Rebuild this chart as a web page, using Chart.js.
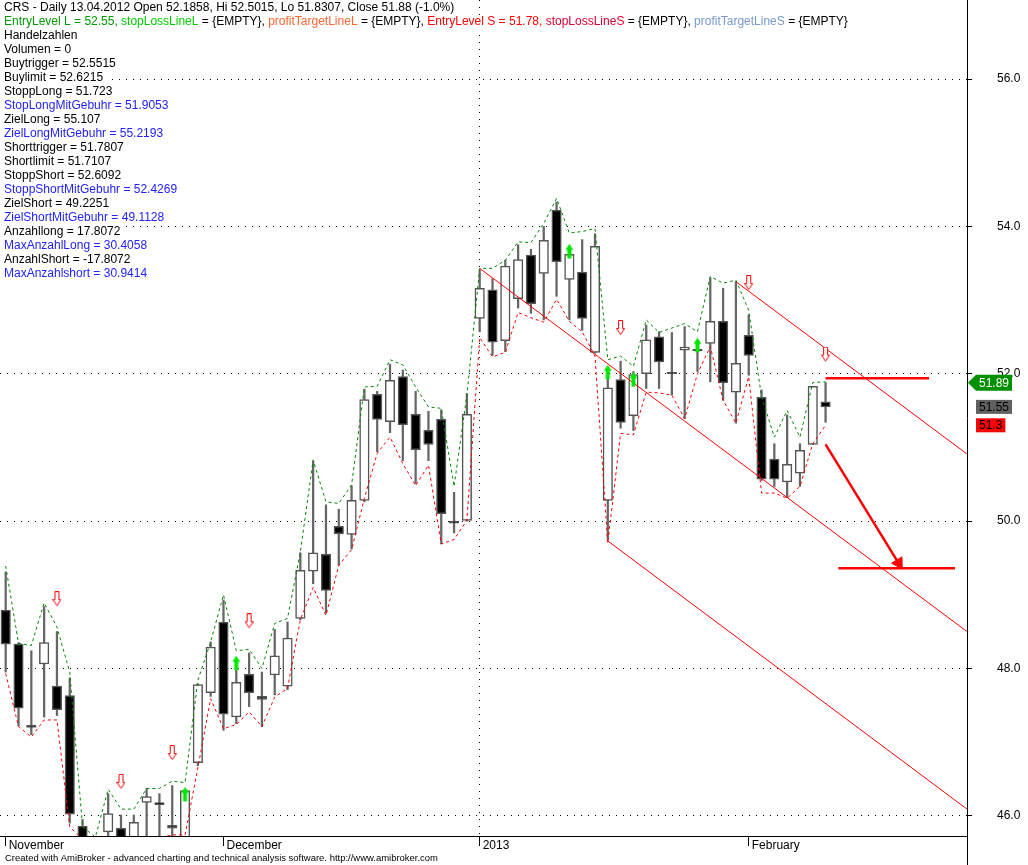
<!DOCTYPE html>
<html>
<head>
<meta charset="utf-8">
<title>CRS - Daily</title>
<script src="https://cdn.jsdelivr.net/npm/chart.js@4.4.1/dist/chart.umd.min.js"></script>
<style>
  html, body { margin: 0; padding: 0; background: #fff; }
  canvas { display: block; }
</style>
</head>
<body>
<canvas id="chart" width="1028" height="865"></canvas>
<script>
// ─── Price data (one entry per trading day) ────────────────────────────────────
const opens = [48.79, 48.33, 47.23, 48.06, 47.76, 47.63, 45.86, 45.55, 45.78, 45.83,
  45.70, 46.18, 46.18, 45.87, 45.65, 46.72, 47.67, 48.63, 47.34, 47.92,
  47.62, 47.91, 47.76, 48.68, 49.32, 49.55, 49.93, 49.82, 50.28, 51.72,
  51.35, 51.96, 51.45, 51.23, 51.38, 50.00, 50.01, 52.75, 53.14, 52.45,
  53.02, 53.61, 53.36, 54.22, 53.28, 53.38, 52.29, 50.28, 51.92, 51.43,
  52.00, 52.50, 52.02, 52.32, 52.33, 52.41, 52.71, 51.75, 52.52, 51.68,
  50.84, 50.53, 50.65, 51.04, 51.62];
const highs = [49.31, 48.35, 48.24, 48.84, 48.50, 47.87, 45.95, 45.68, 46.30, 46.01,
  46.01, 46.37, 46.30, 46.41, 46.34, 47.79, 48.36, 48.93, 47.98, 48.21,
  47.95, 48.53, 48.63, 49.57, 50.81, 50.22, 50.16, 50.48, 51.79, 51.76,
  52.13, 52.05, 51.76, 51.49, 51.51, 50.39, 51.73, 53.41, 53.29, 53.54,
  53.75, 53.69, 54.00, 54.33, 53.65, 53.82, 53.90, 51.94, 52.17, 52.03,
  52.66, 52.57, 52.56, 52.64, 52.45, 53.30, 53.16, 53.25, 52.80, 51.78,
  51.05, 51.44, 51.05, 51.83, 51.88];
const lows = [47.95, 47.22, 47.10, 47.34, 47.36, 45.90, 45.30, 45.10, 45.55, 45.50,
  45.50, 45.60, 45.60, 45.65, 45.50, 46.68, 47.62, 47.16, 47.25, 47.48,
  47.21, 47.64, 47.71, 48.66, 49.15, 48.75, 49.40, 49.62, 50.26, 50.94,
  51.20, 50.82, 50.51, 50.82, 49.69, 49.84, 50.00, 52.57, 52.25, 52.30,
  52.89, 52.82, 52.73, 53.05, 52.73, 52.59, 52.28, 49.75, 51.26, 51.23,
  51.80, 51.80, 51.71, 51.39, 52.03, 51.89, 51.64, 51.33, 51.98, 50.55,
  50.47, 50.32, 50.47, 51.04, 51.34];
const closes = [48.33, 47.46, 47.20, 48.35, 47.44, 46.02, 45.50, 45.30, 46.03, 45.65,
  45.91, 46.26, 46.15, 45.83, 46.34, 47.78, 48.29, 47.38, 47.81, 47.67,
  47.58, 48.17, 48.41, 49.33, 49.57, 49.06, 49.83, 50.28, 51.65, 51.38,
  51.91, 51.31, 50.97, 51.04, 50.10, 49.97, 51.45, 53.16, 52.43, 53.46,
  53.55, 52.95, 53.81, 53.52, 53.62, 52.75, 53.73, 51.81, 51.34, 51.99,
  52.46, 52.16, 52.00, 52.36, 52.31, 52.71, 51.88, 52.14, 52.25, 50.57,
  50.57, 50.77, 50.96, 51.83, 51.55];

// ─── Envelope lines (green = upper, red = lower) ───────────────────────────────
const upperBand = [49.39, 48.34, 48.31, 48.89, 48.56, 47.95, 45.85, 45.71, 46.36, 46.09,
  46.09, 46.37, 46.37, 46.47, 46.45, 47.84, 48.36, 49.00, 48.24, 48.26,
  48.00, 48.61, 48.68, 49.58, 50.83, 50.26, 50.24, 50.49, 51.82, 51.83,
  52.19, 52.12, 51.82, 51.55, 51.53, 50.47, 51.71, 53.43, 53.43, 53.54,
  53.79, 53.78, 54.04, 54.38, 53.91, 53.93, 53.97, 52.19, 52.24, 52.10,
  52.73, 52.56, 52.62, 52.68, 52.57, 53.32, 53.23, 53.27, 52.86, 51.69,
  51.14, 51.50, 51.14, 51.88, 51.89];
const lowerBand = [47.93, 47.21, 47.07, 47.30, 47.30, 45.85, 45.68, 45.30, 45.40, 45.40,
  45.45, 45.55, 45.70, 45.74, 45.74, 46.65, 47.59, 47.18, 47.24, 47.41,
  47.21, 47.61, 47.73, 48.66, 49.10, 48.72, 49.40, 49.61, 50.31, 50.92,
  51.14, 50.78, 50.48, 50.76, 49.69, 49.75, 50.01, 52.49, 52.23, 52.29,
  52.83, 52.76, 52.70, 53.01, 52.71, 52.57, 52.24, 49.70, 51.19, 51.17,
  51.75, 51.74, 51.71, 51.39, 52.00, 52.37, 51.64, 51.33, 51.96, 50.38,
  50.38, 50.31, 50.47, 51.05, 51.30];

// ─── Signals [bar index, price] ────────────────────────────────────────────────
const sellSignals = [[4, 48.94], [9, 46.46], [13, 46.85], [19, 48.64], [48, 52.62], [58, 53.23], [64, 52.26]];
const buySignals = [[14, 46.29], [18, 48.07], [44, 53.66], [47, 52.02], [49, 51.92], [54, 52.385]];

// ─── Trend channel and target drawing [bar index, price] ──────────────────────
const channelTop = [[57, 53.25], [75.04, 50.91]];
const channelMid = [[37, 53.43], [75.04, 48.50]];
const channelLow = [[47, 49.73], [75.04, 46.09]];
const entryLevel = [[64, 51.94], [72.08, 51.94]];
const targetLevel = [[65, 49.36], [74.1, 49.36]];
const targetArrow = [[64, 51.04], [69.7, 49.43]];

// ─── Axes ──────────────────────────────────────────────────────────────────────
const monthTicks = [0, 17, 37, 58];
const monthLabels = ['November', 'December', '2013', 'February'];
const yearTick = 37;
const priceTicks = [46, 48, 50, 52, 54, 56];

// ─── Title block ───────────────────────────────────────────────────────────────
const BLUE = '#2222ff';
const infoLines = [
  [['CRS - Daily 13.04.2012 Open 52.1858, Hi 52.5015, Lo 51.8307, Close 51.88 (-1.0%)']],
  [['EntryLevel L = 52.55, ', '#009900'], ['stopLossLineL', '#00cc00'], [' = {EMPTY}, '],
   ['profitTargetLineL', '#ff6633'], [' = {EMPTY}, '], ['EntryLevel S = 51.78, ', '#ff0000'],
   ['stopLossLineS', '#dd0033'], [' = {EMPTY}, '], ['profitTargetLineS', '#7799cc'], [' = {EMPTY}']],
  [['Handelzahlen']],
  [['Volumen = 0']],
  [['Buytrigger = 52.5515']],
  [['Buylimit = 52.6215']],
  [['StoppLong = 51.723']],
  [['StopLongMitGebuhr = 51.9053', BLUE]],
  [['ZielLong = 55.107']],
  [['ZielLongMitGebuhr = 55.2193', BLUE]],
  [['Shorttrigger = 51.7807']],
  [['Shortlimit = 51.7107']],
  [['StoppShort = 52.6092']],
  [['StoppShortMitGebuhr = 52.4269', BLUE]],
  [['ZielShort = 49.2251']],
  [['ZielShortMitGebuhr = 49.1128', BLUE]],
  [['Anzahllong = 17.8072']],
  [['MaxAnzahlLong = 30.4058', BLUE]],
  [['AnzahlShort = -17.8072']],
  [['MaxAnzahlshort = 30.9414', BLUE]]
];
const footerText = 'Created with AmiBroker - advanced charting and technical analysis software. http://www.amibroker.com';

const FONT = '"Liberation Sans", Arial, sans-serif';
Chart.defaults.font.family = FONT;
Chart.defaults.font.size = 12;
Chart.defaults.color = '#000';

// ─── Arrow markers ─────────────────────────────────────────────────────────────
function makeArrow(dir, fill, stroke) {
  const c = document.createElement('canvas');
  c.width = 9; c.height = 16;
  const g = c.getContext('2d');
  g.beginPath();
  if (dir === 'down') {
    g.moveTo(2.5, 0.5); g.lineTo(6.5, 0.5); g.lineTo(6.5, 8.5); g.lineTo(8.5, 8.5);
    g.lineTo(4.5, 14.5); g.lineTo(0.5, 8.5); g.lineTo(2.5, 8.5);
  } else {
    g.moveTo(4.5, 0.5); g.lineTo(8.5, 6.5); g.lineTo(6.5, 6.5); g.lineTo(6.5, 15);
    g.lineTo(2.5, 15); g.lineTo(2.5, 6.5); g.lineTo(0.5, 6.5);
  }
  g.closePath();
  g.fillStyle = fill; g.fill();
  if (stroke) { g.strokeStyle = stroke; g.lineWidth = 1; g.stroke(); }
  return c;
}
const sellArrow = makeArrow('down', '#ffffff', '#ff0000');
const buyArrow = makeArrow('up', '#00e600', null);

const idx = opens.map((_, i) => i);
const toPts = arr => arr.map(([x, y]) => ({ x, y }));
const bodyColors = idx.map(i => closes[i] < opens[i] ? '#000000' : '#ffffff');

// ─── Overlay: title text, value tags, footer ───────────────────────────────────
const overlayPlugin = {
  id: 'overlay',
  afterDraw(chart) {
    const { ctx, chartArea } = chart;
    const y = chart.scales.y;
    ctx.save();

    // right axis line continues to the bottom edge
    ctx.strokeStyle = '#000';
    ctx.lineWidth = 1;
    ctx.beginPath();
    ctx.moveTo(chartArea.right + 0.5, chartArea.bottom);
    ctx.lineTo(chartArea.right + 0.5, chart.height);
    ctx.stroke();

    // value tags on the price axis
    ctx.font = '12px ' + FONT;
    ctx.textBaseline = 'middle';
    const fmt = v => String(Number(v.toFixed(2)));
    const upTag = upperBand[upperBand.length - 1];
    const lastClose = closes[closes.length - 1];
    const lowTag = lowerBand[lowerBand.length - 1];

    let py = y.getPixelForValue(upTag) + 1;
    let txt = fmt(upTag);
    let w = ctx.measureText(txt).width;
    ctx.fillStyle = '#009000';
    ctx.beginPath();
    ctx.moveTo(968, py);
    ctx.lineTo(976, py - 8);
    ctx.lineTo(979 + w + 3, py - 8);
    ctx.lineTo(979 + w + 3, py + 8);
    ctx.lineTo(976, py + 8);
    ctx.closePath();
    ctx.fill();
    ctx.fillStyle = '#ffffff';
    ctx.fillText(txt, 979, py + 0.5);

    [[lastClose, '#606060'], [lowTag, '#ff0000']].forEach(([v, bg]) => {
      const p = y.getPixelForValue(v);
      const t = fmt(v);
      const tw = ctx.measureText(t).width;
      ctx.fillStyle = bg;
      ctx.fillRect(976, p - 7, tw + 6, 14);
      ctx.fillStyle = '#000';
      ctx.fillText(t, 979, p + 0.5);
    });

    // title block
    ctx.textBaseline = 'alphabetic';
    infoLines.forEach((parts, k) => {
      const width = parts.reduce((s, p) => s + ctx.measureText(p[0]).width, 0);
      ctx.fillStyle = '#ffffff';
      ctx.fillRect(0, 1 + 14 * k, width + 7, 14);
      let x = 4;
      parts.forEach(([t, c]) => {
        ctx.fillStyle = c || '#000000';
        ctx.fillText(t, x, 11 + 14 * k);
        x += ctx.measureText(t).width;
      });
    });

    // footer
    ctx.font = '9px ' + FONT;
    const fw = ctx.measureText(footerText).width;
    ctx.translate(5, 861);
    ctx.scale(433 / fw, 1);
    ctx.fillStyle = '#000';
    ctx.fillText(footerText, 0, 0);
    ctx.restore();
  }
};

// ─── Chart ─────────────────────────────────────────────────────────────────────
new Chart(document.getElementById('chart'), {
  type: 'bar',
  data: {
    datasets: [
      {
        type: 'scatter', data: toPts(sellSignals), pointStyle: sellArrow, order: 1
      },
      {
        type: 'scatter', data: toPts(buySignals), pointStyle: buyArrow, order: 1
      },
      {
        type: 'line', data: toPts(targetArrow), borderColor: '#ff0000', borderWidth: 2.5,
        pointStyle: 'triangle', pointRadius: [0, 7], pointRotation: [0, 148.5],
        pointBackgroundColor: '#ff0000', pointBorderColor: '#ff0000', pointBorderWidth: 1, order: 2
      },
      { type: 'line', data: toPts(entryLevel), borderColor: '#ff0000', borderWidth: 2.5, pointRadius: 0, order: 3 },
      { type: 'line', data: toPts(targetLevel), borderColor: '#ff0000', borderWidth: 2.5, pointRadius: 0, order: 3 },
      { type: 'line', data: toPts(channelTop), borderColor: '#ff0000', borderWidth: 1, pointRadius: 0, order: 4 },
      { type: 'line', data: toPts(channelMid), borderColor: '#ff0000', borderWidth: 1, pointRadius: 0, order: 4 },
      { type: 'line', data: toPts(channelLow), borderColor: '#ff0000', borderWidth: 1, pointRadius: 0, order: 4 },
      {
        type: 'line', data: idx.map(i => ({ x: i, y: upperBand[i] })), borderColor: '#008800',
        borderWidth: 1, borderDash: [3, 3], pointRadius: 0, tension: 0, order: 5
      },
      {
        type: 'line', data: idx.map(i => ({ x: i, y: lowerBand[i] })), borderColor: '#ff0000',
        borderWidth: 1, borderDash: [3, 3], pointRadius: 0, tension: 0, order: 5
      },
      {
        type: 'bar', data: idx.map(i => ({ x: i, y: [opens[i], closes[i]] })),
        backgroundColor: bodyColors, borderColor: '#555555', borderWidth: 1.5, borderSkipped: false,
        barThickness: 9.5, grouped: false, order: 9
      },
      {
        type: 'bar', data: idx.map(i => ({ x: i, y: [lows[i], highs[i]] })),
        backgroundColor: '#666666', barThickness: 1.6, grouped: false, order: 10
      }
    ]
  },
  options: {
    responsive: false,
    animation: false,
    devicePixelRatio: 1,
    events: [],
    layout: { padding: 0, autoPadding: false },
    plugins: { legend: { display: false }, tooltip: { enabled: false } },
    scales: {
      x: {
        type: 'linear',
        min: -0.445,
        max: 75.04,
        offset: false,
        afterBuildTicks: s => { s.ticks = monthTicks.map(v => ({ value: v })); },
        afterFit: s => { s.height = 29; s.paddingLeft = 0; s.paddingRight = 0; s.paddingTop = 0; s.paddingBottom = 0; },
        ticks: {
          autoSkip: false, maxRotation: 0, align: 'start', labelOffset: 3, padding: -8,
          callback: (v, i) => monthLabels[i],
          font: { size: 12 }, color: '#000'
        },
        grid: {
          offset: false,
          color: c => (c.tick && c.tick.value === yearTick) ? '#000000' : 'rgba(0,0,0,0)',
          tickColor: '#000000', tickLength: 10, lineWidth: 1
        },
        border: { color: '#000000', width: 1, dash: [1, 6] }
      },
      y: {
        position: 'right',
        min: 45.725,
        max: 57.073,
        beginAtZero: false,
        afterBuildTicks: s => { s.ticks = priceTicks.map(v => ({ value: v })); },
        afterFit: s => { s.width = 61; s.paddingTop = 0; s.paddingBottom = 0; s.paddingLeft = 0; s.paddingRight = 0; },
        ticks: { padding: 25, callback: v => v.toFixed(1), font: { size: 12 }, color: '#000' },
        grid: { color: '#000000', tickColor: '#000000', tickLength: 5, lineWidth: 1 },
        border: { color: '#000000', width: 1, dash: [1, 6] }
      }
    }
  },
  plugins: [overlayPlugin]
});
</script>
</body>
</html>
